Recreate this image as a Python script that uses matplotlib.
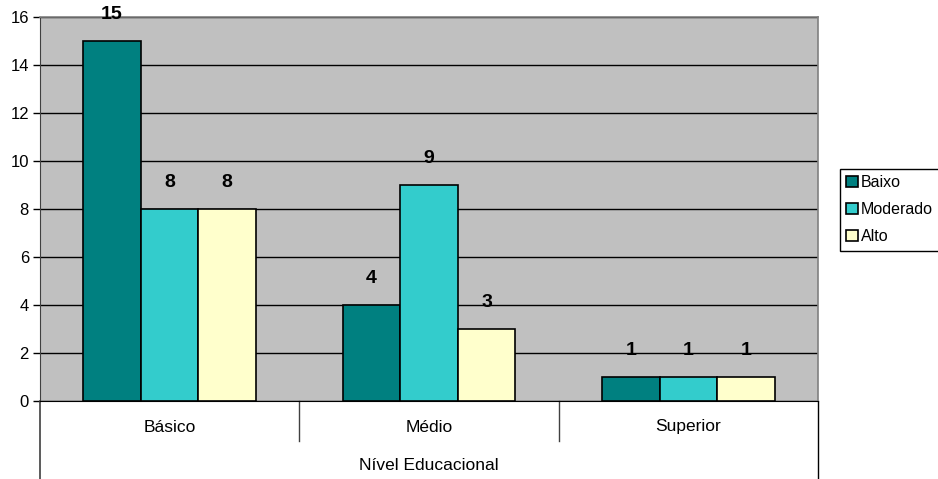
import matplotlib.pyplot as plt
import numpy as np

plt.rcParams['font.family'] = ['Liberation Sans', 'DejaVu Sans']

# data
categorias = ['Básico', 'Médio', 'Superior']
series = ['Baixo', 'Moderado', 'Alto']
baixo = [15, 4, 1]
moderado = [8, 9, 1]
alto = [8, 3, 1]
cores = ['#008080', '#33CCCC', '#FFFFCC']

W, H = 938, 479
fig = plt.figure(figsize=(W / 100, H / 100), dpi=100)
# plot area in pixels: x 40..818, y 17..401
ax = fig.add_axes([40 / W, 1 - 401 / H, (818 - 40) / W, (401 - 17) / H])
ax.set_facecolor('#C0C0C0')

x = np.arange(len(categorias))
bw = 0.222
for i, (nome, vals) in enumerate(zip(series, [baixo, moderado, alto])):
    pos = x + (i - 1) * bw
    bars = ax.bar(pos, vals, bw, color=cores[i], edgecolor='black', linewidth=1.2,
                  label=nome, zorder=3)
    for b, v in zip(bars, vals):
        ax.annotate(str(v), (b.get_x() + b.get_width() / 2, v), xytext=(0, 19),
                    textcoords='offset points', ha='center', va='center',
                    fontsize=14, fontweight='bold', annotation_clip=False)

ax.set_xlim(-0.5, 2.5)
ax.set_ylim(0, 16)
ax.set_yticks(range(0, 17, 2))
ax.yaxis.grid(True, color='black', linewidth=1, zorder=1)
ax.set_axisbelow(True)
ax.tick_params(axis='y', direction='out', length=5, width=1, labelsize=12, pad=3)
ax.set_xticks([])

for s in ['top', 'right']:
    ax.spines[s].set_color('#808080')
    ax.spines[s].set_linewidth(1.2)
ax.spines['left'].set_color('#404040')
ax.spines['bottom'].set_color('black')

# category table below axis
h = 401 - 17
t_div = -(441 - 401) / h
t_bot = -(479 - 401) / h
ax.plot([0, 0], [0, t_bot], transform=ax.transAxes, color='#404040', lw=1.2, clip_on=False)
ax.plot([1, 1], [0, t_bot], transform=ax.transAxes, color='black', lw=1, clip_on=False)
for xd in [1 / 3, 2 / 3]:
    ax.plot([xd, xd], [0, t_div], transform=ax.transAxes, color='#404040', lw=1, clip_on=False)
for i, c in enumerate(categorias):
    ax.text((i + 0.5) / 3, -(427 - 401) / h, c, transform=ax.transAxes,
            ha='center', va='center', fontsize=12.5)
ax.text(0.5, -(466 - 401) / h, 'Nível Educacional', transform=ax.transAxes,
        ha='center', va='center', fontsize=12.5)

leg = fig.legend(loc='upper left', bbox_to_anchor=(840 / W, 1 - 169 / H),
                 frameon=True, fancybox=False, edgecolor='black', framealpha=1,
                 fontsize=11.5, handlelength=0.7, handleheight=0.7, handletextpad=0.2,
                 borderpad=0.4, labelspacing=0.75, borderaxespad=0)
leg.get_frame().set_linewidth(1)

fig.savefig('out.png', dpi=100)
